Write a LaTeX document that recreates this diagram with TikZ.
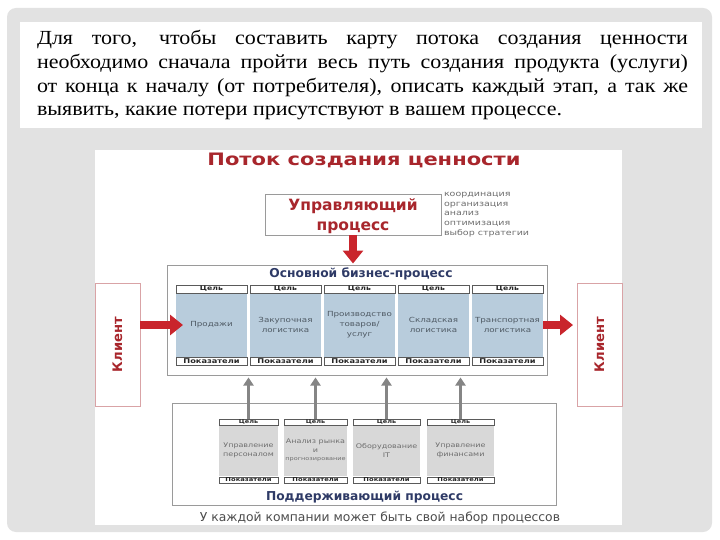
\documentclass[tikz,border=0pt]{standalone}
\usepackage{fontspec}
\setmainfont{Liberation Serif}
\newfontfamily\parafont[FakeStretch=1.1]{Liberation Serif}
\newfontfamily\dsans{DejaVu Sans}
\newfontfamily\dsansw[FakeStretch=1.25]{DejaVu Sans}
\usepackage{graphicx}
\usetikzlibrary{arrows.meta}

\definecolor{bggray}{HTML}{E2E2E2}
\definecolor{dred}{HTML}{A8262C}
\definecolor{ared}{HTML}{C9252C}
\definecolor{navy}{HTML}{2E3A66}
\definecolor{pblue}{HTML}{B8CCDC}
\definecolor{sgray}{HTML}{D8D8D8}
\definecolor{agray}{HTML}{858585}
\definecolor{tgray}{HTML}{4F5A64}
\definecolor{lgray}{HTML}{6E6E6E}
\definecolor{cellb}{HTML}{5A5A5A}
\definecolor{boxb}{HTML}{9A9A9A}
\definecolor{pinkb}{HTML}{D9A3A6}

\newcommand{\myfs}[1]{\fontsize{#1}{#1}\selectfont}
\newcommand{\smallline}[1]{{\fontsize{5.2}{8.5}\selectfont #1}}

\tikzset{
  every node/.style={inner sep=0pt, outer sep=0pt},
  plainbox/.style={draw=boxb, line width=0.6pt, fill=white, anchor=north west},
  clientbox/.style={draw=pinkb, line width=0.7pt, fill=white, anchor=north west, minimum width=45pt, minimum height=123pt},
  mhead/.style={draw=cellb, line width=0.5pt, fill=white, anchor=north west, minimum width=71pt, minimum height=8pt, font=\dsansw\bfseries\myfs{6.2}, text=black!85},
  mbody/.style={fill=pblue, anchor=north west, minimum width=71pt, minimum height=64pt, align=center, font=\dsansw\fontsize{7}{10}\selectfont, text=tgray},
  mfoot/.style={draw=cellb, line width=0.5pt, fill=white, anchor=north west, minimum width=71pt, minimum height=8pt, font=\dsansw\bfseries\myfs{6.6}, text=black!85},
  shead/.style={draw=cellb, line width=0.5pt, fill=white, anchor=north west, minimum height=6pt, font=\dsansw\bfseries\myfs{5.2}, text=black!85},
  sbody/.style={fill=sgray, anchor=north west, minimum height=51pt, align=center, font=\dsansw\fontsize{6.4}{8.5}\selectfont, text=lgray},
  sfoot/.style={draw=cellb, line width=0.5pt, fill=white, anchor=north west, minimum height=6pt, font=\dsansw\bfseries\myfs{5.4}, text=black!85},
  redarrow/.style={draw=ared, line width=8pt, -{Triangle[width=20pt,length=13pt]}},
  grayarrow/.style={draw=agray, line width=2.6pt, -{Triangle[width=10pt,length=8pt]}},
  para/.style={anchor=base west, font=\parafont\myfs{20}, text=black}
}

\begin{document}
\begin{tikzpicture}[x=1pt,y=-1pt]
\useasboundingbox (0,0) rectangle (720,540);
\fill[white] (0,0) rectangle (720,540);
\fill[bggray, rounded corners=9pt] (7,8) rectangle (712,532);
\fill[white] (20,22) rectangle (702,128);

% paragraph
\node[para] (t1) at (37,45) {\makebox[651pt][s]{Для того, чтобы составить карту потока создания ценности}};
\node[para] (t2) at (37,68.7) {\makebox[651pt][s]{необходимо сначала пройти весь путь создания продукта (услуги)}};
\node[para] (t3) at (37,92.3) {\makebox[651pt][s]{от конца к началу (от потребителя), описать каждый этап, а так же}};
\node[para] (t4) at (37,116) {выявить, какие потери присутствуют в вашем процессе.};

% picture panel
\fill[white] (95,150) rectangle (622,525);

% title
\node[text=dred, anchor=base] (title) at (364,165.5) {\resizebox{313pt}{12.5pt}{\dsans\bfseries\myfs{16}Поток создания ценности}};

% managing process
\node[plainbox, minimum width=176pt, minimum height=41pt] (upr) at (265,194) {};
\node[text=dred, align=center, font=\dsans\bfseries\fontsize{15.5}{20}\selectfont] (uprt) at ([yshift=-1.5pt]upr.center) {Управляющий\\процесс};
\node[anchor=north west, align=left, text=lgray, font=\dsansw\fontsize{7.6}{9.8}\selectfont] (list) at (444,192)
  {координация\\организация\\анализ\\оптимизация\\выбор стратегии};

% main process box
\node[plainbox, minimum width=380pt, minimum height=110pt] (main) at (167,265) {};
\node[text=navy] (maint) at (361,274) {\resizebox{183pt}{!}{\dsans\bfseries\myfs{12}Основной бизнес-процесс}};

\foreach \i/\t in {1/Продажи, 2/{Закупочная\\логистика}, 3/{Производство\\товаров/\\услуг}, 4/{Складская\\логистика}, 5/{Транспортная\\логистика}} {
  \pgfmathsetmacro\xl{176+74*(\i-1)}
  \node[mbody] (mb\i) at (\xl,293) {\t};
  \node[mhead] (mh\i) at (\xl,285) {Цель};
  \node[mfoot] (mf\i) at (\xl,357) {Показатели};
}

% clients
\node[clientbox] (klL) at (95,283) {};
\node[rotate=90, text=dred] (klLt) at (klL.center) {\resizebox{55pt}{!}{\dsans\bfseries\myfs{16}Клиент}};
\node[clientbox] (klR) at (577,283) {};
\node[rotate=90, text=dred] (klRt) at (klR.center) {\resizebox{55pt}{!}{\dsans\bfseries\myfs{16}Клиент}};

% support process box
\node[plainbox, minimum width=384pt, minimum height=102pt] (supp) at (172,403) {};
\node[text=navy] (suppt) at (364.5,497) {\resizebox{197pt}{!}{\dsans\bfseries\myfs{12}Поддерживающий процесс}};

\foreach \n/\xl/\w/\t in {1/219/59/{Управление\\персоналом}, 2/284/63/{Анализ рынка\\и\\\smallline{прогнозирование}}, 3/353/67/{Оборудование\\IT}, 4/427/67/{Управление\\финансами}} {
  \node[sbody, minimum width=\w pt] (sb\n) at (\xl,425) {\t};
  \node[shead, minimum width=\w pt] (sh\n) at (\xl,419) {Цель};
  \node[sfoot, minimum width=\w pt] (sf\n) at (\xl,477) {Показатели};
  \draw[grayarrow, shorten >=2.5pt] (sh\n.north) -- (sh\n.north |- main.south);
}

% red arrows
\draw[redarrow] (upr.south) -- ([yshift=1.5pt]upr.south |- main.north);
\draw[redarrow] (klL.east |- mb1.west) -- ([xshift=7pt]mb1.west);
\draw[redarrow, shorten >=4pt] (mb5.east) -- (klR.west |- mb5.east);

% caption
\node[text=black!70] (cap) at (380,518) {\resizebox{360pt}{!}{\dsans\myfs{11}У каждой компании может быть свой набор процессов}};
\end{tikzpicture}
\end{document}
